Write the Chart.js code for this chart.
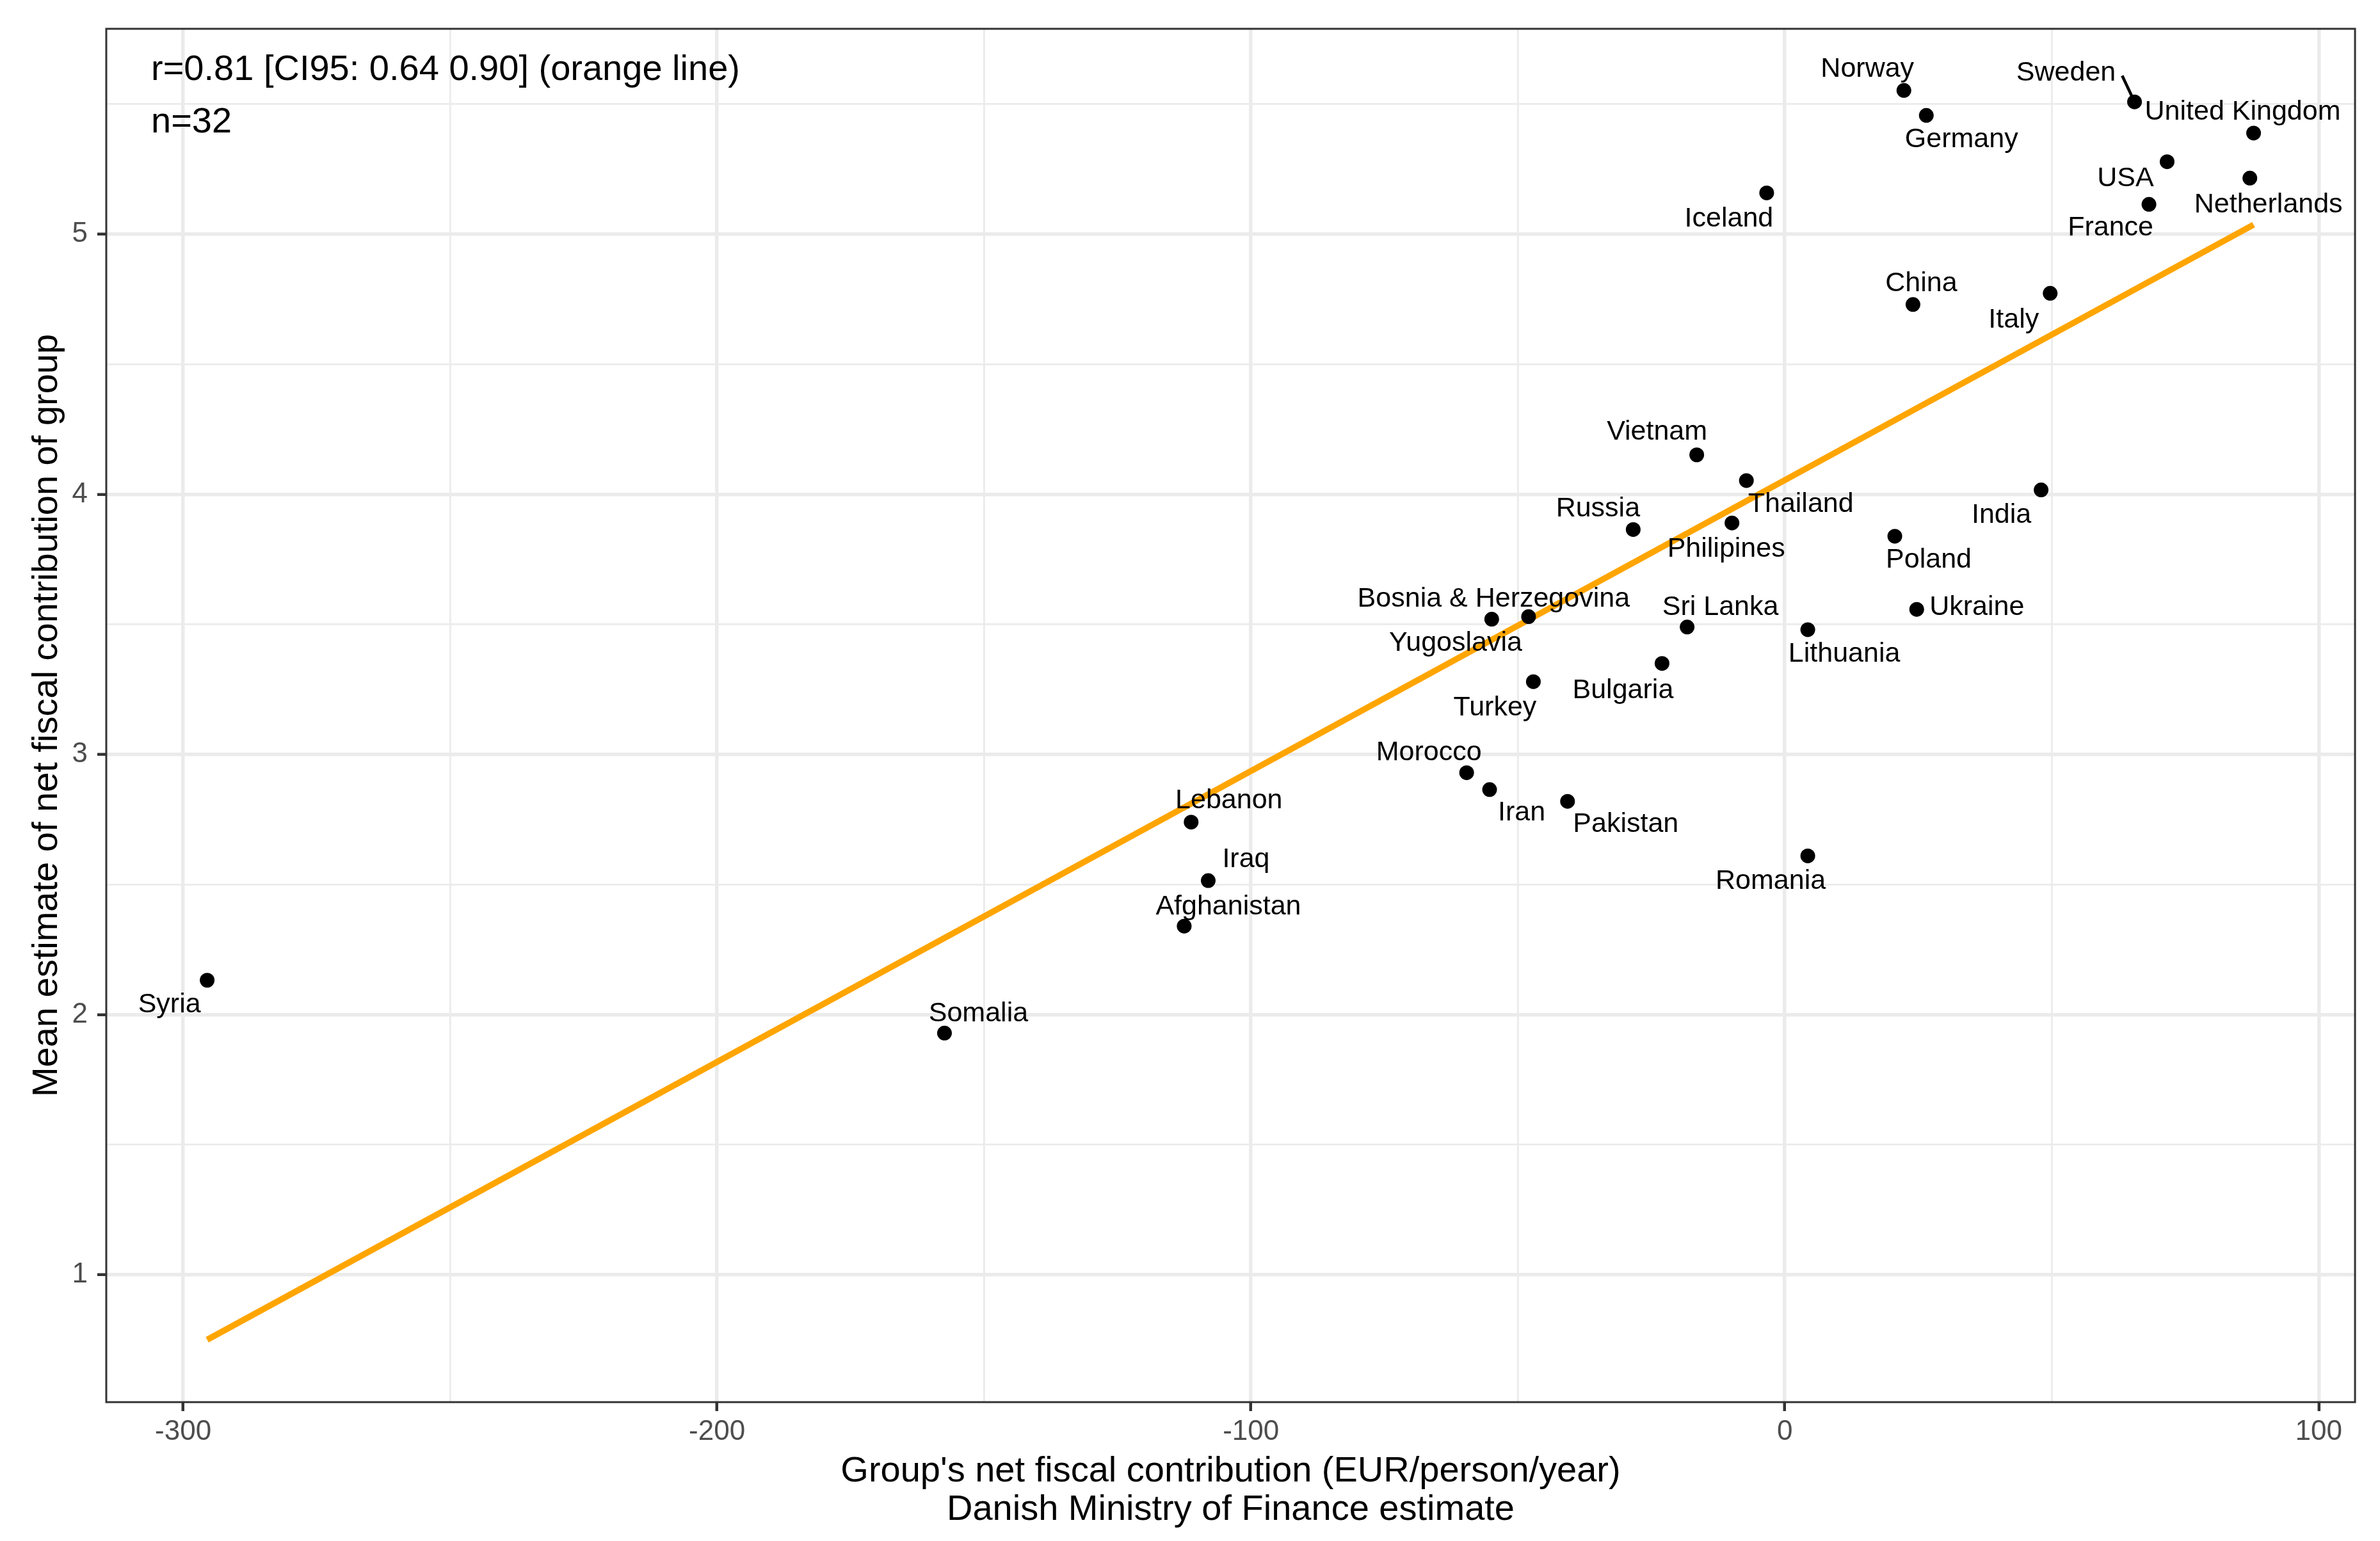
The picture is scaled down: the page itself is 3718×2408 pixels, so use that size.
<!DOCTYPE html>
<html>
<head>
<meta charset="utf-8">
<script src="https://cdn.jsdelivr.net/npm/chart.js@4/dist/chart.umd.min.js"></script>
<style>
  body { margin: 0; background: #fff; }
  canvas { display: block; }
</style>
</head>
<body>
<canvas id="myChart" width="3718" height="2408" style="width:3718px;height:2408px"></canvas>
<script>
var countries = ['Norway', 'Sweden', 'United Kingdom', 'Germany', 'USA', 'Netherlands', 'France', 'Iceland',
  'China', 'Italy', 'Vietnam', 'Thailand', 'Russia', 'Philipines', 'India', 'Poland',
  'Bosnia & Herzegovina', 'Yugoslavia', 'Sri Lanka', 'Ukraine', 'Lithuania', 'Turkey', 'Bulgaria', 'Morocco',
  'Iran', 'Pakistan', 'Romania', 'Lebanon', 'Iraq', 'Afghanistan', 'Somalia', 'Syria'];
var fiscal = [22.3, 65.5, 87.8, 26.5, 71.6, 87.1, 68.2, -3.4,
  24.0, 49.7, -16.5, -7.2, -28.4, -9.9, 48.0, 20.6,
  -54.9, -48.0, -18.3, 24.7, 4.3, -47.1, -23.0, -59.6,
  -55.3, -40.7, 4.3, -111.2, -108.0, -112.5, -157.4, -295.5];
var estimate = [5.553, 5.509, 5.389, 5.457, 5.279, 5.216, 5.115, 5.159,
  4.73, 4.773, 4.152, 4.053, 3.865, 3.89, 4.017, 3.839,
  3.52, 3.53, 3.49, 3.558, 3.48, 3.28, 3.35, 2.93,
  2.865, 2.82, 2.61, 2.74, 2.515, 2.34, 1.929, 2.132];

// orange line ends
var fitX = [-295.5, 87.8];
var fitY = [0.75, 5.037];

var xTicks = [-300, -250, -200, -150, -100, -50, 0, 50, 100];
var yTicks = [1, 1.5, 2, 2.5, 3, 3.5, 4, 4.5, 5, 5.5];
var xTickLabels = ['-300', '', '-200', '', '-100', '', '0', '', '100'];
var yTickLabels = ['1', '', '2', '', '3', '', '4', '', '5', ''];

var statLines = ['r=0.81 [CI95: 0.64 0.90] (orange line)', 'n=32'];

// where each label sits relative to its dot (px), like ggrepel put them
var labelNudge = [[-57, -37], [-107, -49], [-17, -36], [55, 34], [-65, 23], [29, 38], [-60, 33], [-59, 37],
  [13, -36], [-57, 38], [-62, -39], [85, 34], [-55, -36], [-9, 37], [-62, 36], [53, 34],
  [3, -35], [-114, 38], [52, -34], [94, -7], [57, 35], [-60, 37], [-61, 39], [-59, -35],
  [50, 33], [91, 32], [-58, 36], [59, -37], [59, -37], [69, -34], [53, -34], [-59, 35]];

var FONT = '"Liberation Sans", Arial, sans-serif';

var points = [];
for (var i = 0; i < countries.length; i++) {
  points.push({x: fiscal[i], y: estimate[i]});
}
var fitLine = [];
for (var j = 0; j < fitX.length; j++) {
  fitLine.push({x: fitX[j], y: fitY[j]});
}

function isMajor(v) { return Math.abs(v - Math.round(v / 100) * 100) < 1e-6; }
function isMajorY(v) { return Math.abs(v - Math.round(v)) < 1e-6; }

var panelExtras = {
  id: 'panelExtras',
  afterDatasetsDraw: function (chart) {
    var c = chart.ctx, a = chart.chartArea;
    c.save();
    // panel border
    c.strokeStyle = '#333333';
    c.lineWidth = 3;
    c.strokeRect(a.left, a.top, a.right - a.left, a.bottom - a.top);

    // country labels
    var meta = chart.getDatasetMeta(1);
    c.font = '43px ' + FONT;
    c.fillStyle = '#000';
    c.textAlign = 'center';
    c.textBaseline = 'alphabetic';
    for (var i = 0; i < countries.length; i++) {
      var p = meta.data[i];
      var lx = p.x + labelNudge[i][0];
      var ly = p.y + labelNudge[i][1];
      c.fillText(countries[i], lx, ly + 15.5);
      if (countries[i] === 'Sweden') {
        var w = c.measureText(countries[i]).width;
        c.beginPath();
        c.lineWidth = 4.5;
        c.strokeStyle = '#000';
        c.moveTo(lx + w / 2 + 10, ly + 8);
        c.lineTo(p.x, p.y);
        c.stroke();
      }
    }

    // stats text
    c.font = '56px ' + FONT;
    c.textAlign = 'left';
    c.fillText(statLines[0], a.left + 70, a.top + 80);
    c.fillText(statLines[1], a.left + 70, a.top + 162);
    c.restore();
  }
};

var ctx = document.getElementById('myChart').getContext('2d');
var myChart = new Chart(ctx, {
  type: 'scatter',
  data: {
    datasets: [{
      type: 'line',
      data: fitLine,
      borderColor: '#FFA500',
      borderWidth: 9.5,
      pointRadius: 0,
      fill: false,
      order: 2
    }, {
      type: 'scatter',
      data: points,
      backgroundColor: '#000000',
      borderWidth: 0,
      pointRadius: 11.5,
      order: 1
    }]
  },
  options: {
    responsive: false,
    devicePixelRatio: 1,
    animation: false,
    layout: { padding: { top: 45, right: 39, left: 0, bottom: 0 } },
    plugins: { legend: { display: false }, tooltip: { enabled: false } },
    scales: {
      x: {
        type: 'linear',
        min: -314.4,
        max: 106.8,
        afterBuildTicks: function (scale) {
          scale.ticks = xTicks.map(function (v) { return {value: v}; });
        },
        afterFit: function (scale) { scale.height = 217; },
        border: { display: false },
        grid: {
          color: '#EBEBEB',
          lineWidth: function (c) { return c.tick && isMajor(c.tick.value) ? 5.5 : 2.8; },
          tickColor: function (c) { return c.tick && isMajor(c.tick.value) ? '#333333' : 'rgba(0,0,0,0)'; },
          tickWidth: 4.5,
          tickLength: 14
        },
        ticks: {
          autoSkip: false,
          maxRotation: 0,
          padding: 6,
          color: '#4D4D4D',
          font: { family: FONT, size: 44 },
          callback: function (v, idx) { return xTickLabels[xTicks.indexOf(v)]; }
        },
        title: {
          display: true,
          text: ["Group's net fiscal contribution (EUR/person/year)", 'Danish Ministry of Finance estimate'],
          color: '#000',
          font: { family: FONT, size: 56, lineHeight: 1.077 },
          padding: { top: 0, bottom: 18 }
        }
      },
      y: {
        type: 'linear',
        min: 0.51,
        max: 5.79,
        afterBuildTicks: function (scale) {
          scale.ticks = yTicks.map(function (v) { return {value: v}; });
        },
        afterFit: function (scale) { scale.width = 166; },
        border: { display: false },
        grid: {
          color: '#EBEBEB',
          lineWidth: function (c) { return c.tick && isMajorY(c.tick.value) ? 5.5 : 2.8; },
          tickColor: function (c) { return c.tick && isMajorY(c.tick.value) ? '#333333' : 'rgba(0,0,0,0)'; },
          tickWidth: 4.5,
          tickLength: 14
        },
        ticks: {
          autoSkip: false,
          padding: 15,
          color: '#4D4D4D',
          font: { family: FONT, size: 44 },
          callback: function (v) { return yTickLabels[yTicks.indexOf(v)]; }
        },
        title: {
          display: true,
          text: 'Mean estimate of net fiscal contribution of group',
          color: '#000',
          font: { family: FONT, size: 56, lineHeight: 1.077 },
          padding: { top: 43, bottom: 0 }
        }
      }
    }
  },
  plugins: [panelExtras]
});
</script>
</body>
</html>
